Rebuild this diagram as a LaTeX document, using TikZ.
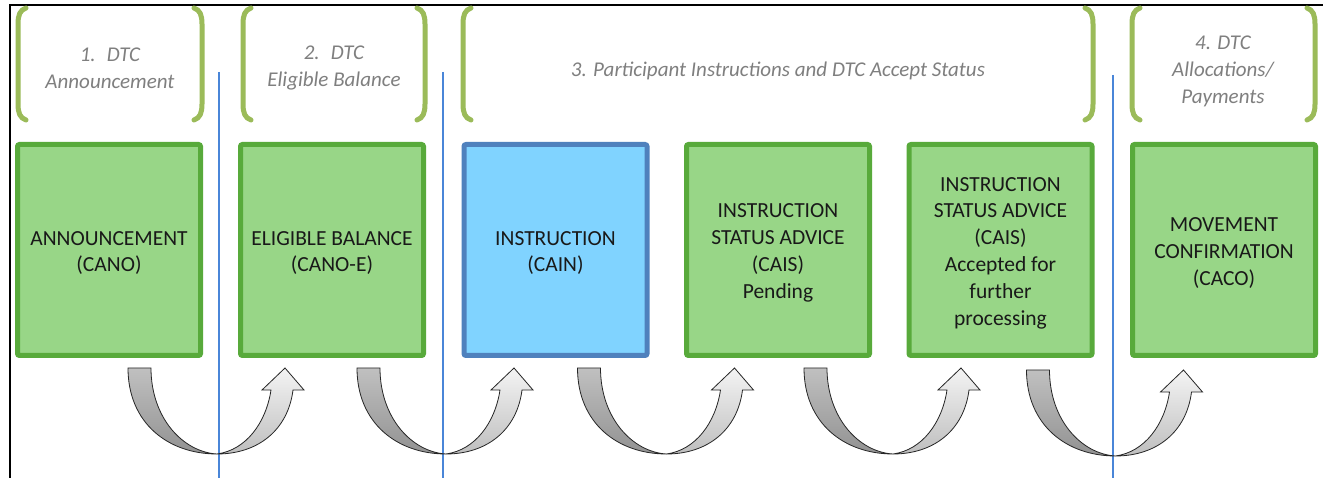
\documentclass[tikz,border=0pt]{standalone}
\usepackage{fontspec}
\setmainfont{Carlito}
\usetikzlibrary{calc,shadows}
\definecolor{boxgreen}{HTML}{98D687}
\definecolor{boxgreenline}{HTML}{58AA3B}
\definecolor{boxblue}{HTML}{80D3FF}
\definecolor{boxblueline}{HTML}{4F81BD}
\definecolor{brk}{HTML}{9BBB59}
\definecolor{hdr}{HTML}{7F7F7F}
\definecolor{sepblue}{HTML}{4A86D8}
\definecolor{arrdarktop}{HTML}{C0C0C0}
\definecolor{arrdarkbot}{HTML}{929292}
\definecolor{arrlighttop}{HTML}{F4F4F4}
\definecolor{arrlightbot}{HTML}{BEBEBE}
\newcommand\drawbracket[2]{%
  \draw[bracketline] (#1+8,8) .. controls (#1+2,10) and (#1,15) .. (#1,24) -- (#1,104) .. controls (#1,113) and (#1+2,118) .. (#1+8,120);
  \draw[bracketline] (#2-8,8) .. controls (#2-2,10) and (#2,15) .. (#2,24) -- (#2,104) .. controls (#2,113) and (#2-2,118) .. (#2-8,120);
}
\tikzset{
  msgbox/.style={draw=boxgreenline, fill=boxgreen, line width=5pt, rounded corners=2pt,
    minimum width=183pt, minimum height=211pt, inner sep=0pt,
    drop shadow={shadow xshift=1.5pt, shadow yshift=-1.5pt, opacity=0.25}},
  bluebox/.style={draw=boxblueline, fill=boxblue},
  boxtext/.style={align=center, inner sep=0pt, font=\fontsize{21.5}{26.8}\selectfont, text=black!90},
  hdrtext/.style={text=hdr, font=\fontsize{21}{27}\selectfont\itshape, align=center},
  bracketline/.style={draw=brk, line width=5pt, line cap=round},
  sepline/.style={draw=sepblue, line width=1.3pt},
  arrdark/.style={draw=black!85, line width=0.8pt, top color=arrdarktop, bottom color=arrdarkbot},
  arrlight/.style={draw=black!85, line width=0.8pt, top color=arrlighttop, bottom color=arrlightbot},
  uturn/.pic={
    \path[arrdark] (0,0) -- (23,0) .. controls (23,50) and (55,84) .. (89,86)
       .. controls (40,86) and (0,55) .. (0,0) -- cycle;
    \path[arrlight] (89,86) .. controls (130,86) and (160,62) .. (165,22) -- (176,22) -- (157,0)
       -- (134,22) -- (143,22) .. controls (138,55) and (118,82) .. (89,86) -- cycle;
  }
}
\begin{document}
\begin{tikzpicture}[x=1pt,y=-1pt]
\useasboundingbox (0,0) rectangle (1323,478);
\fill[white] (0,0) rectangle (1323,478);
% frame
\draw[line width=2pt] (10,478) -- (10,5) -- (1323,5);
% separators
\draw[sepline] (219,72) -- (219,478);
\draw[sepline] (443,72) -- (443,478);
\draw[sepline] (1113,75) -- (1113,478);
% brackets
\drawbracket{18}{202}
\drawbracket{243}{425}
\drawbracket{463}{1093}
\drawbracket{1132}{1315}
% headers
\node[hdrtext] (h1) at (110,68) {1.~ DTC\\Announcement};
\node[hdrtext] (h2) at (334,68) {2.~ DTC\\Eligible Balance};
\node[hdrtext] (h3) at (778,71) {3. Participant Instructions and DTC Accept Status};
\node[hdrtext] (h4) at (1223,71) {4. DTC\\Allocations/\\Payments};
% boxes
\node[msgbox] (b1) at (109,250) {};
\node[msgbox] (b2) at (332,250) {};
\node[msgbox,bluebox] (b3) at (555.5,250) {};
\node[msgbox] (b4) at (778,250) {};
\node[msgbox] (b5) at (1000.5,250) {};
\node[msgbox] (b6) at (1224,250) {};
\node[boxtext] (t1) at ($(b1.center)+(0,3)$) {ANNOUNCEMENT\\(CANO)};
\node[boxtext] (t2) at ($(b2.center)+(0,3)$) {ELIGIBLE BALANCE\\(CANO-E)};
\node[boxtext] (t3) at ($(b3.center)+(0,3)$) {INSTRUCTION\\(CAIN)};
\node[boxtext] (t4) at ($(b4.center)+(0,3)$) {INSTRUCTION\\STATUS ADVICE\\(CAIS)\\Pending};
\node[boxtext] (t5) at ($(b5.center)+(0,3)$) {INSTRUCTION\\STATUS ADVICE\\(CAIS)\\Accepted for\\further\\processing};
\node[boxtext] (t6) at ($(b6.center)+(0,3)$) {MOVEMENT\\CONFIRMATION\\(CACO)};
% u-turn arrows
\pic at ($(b1.south east)+(-75,10)$) {uturn};
\pic at ($(b2.south east)+(-69,10)$) {uturn};
\pic at ($(b3.south east)+(-72,10)$) {uturn};
\pic at ($(b4.south east)+(-68,10)$) {uturn};
\pic at ($(b5.south east)+(-68,12)$) {uturn};
\end{tikzpicture}
\end{document}
